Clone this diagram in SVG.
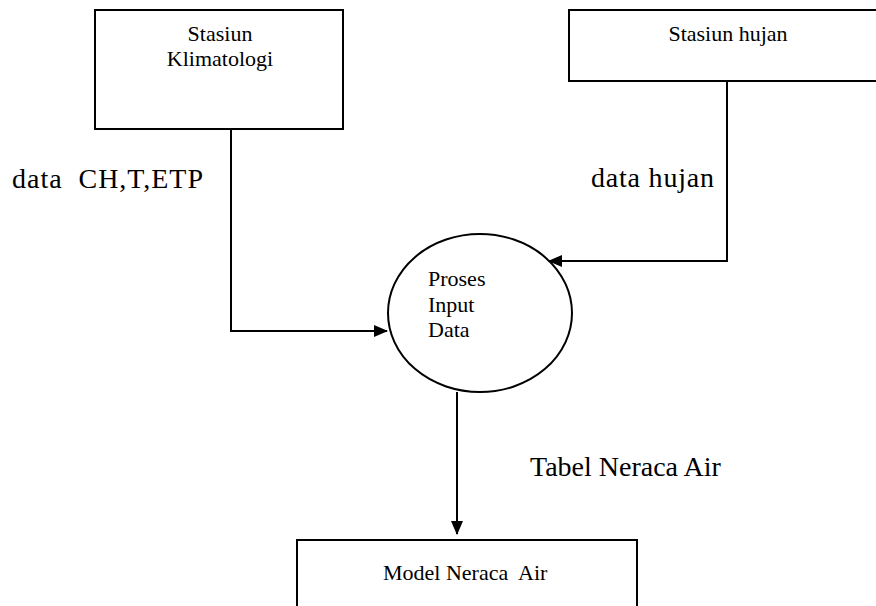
<svg xmlns="http://www.w3.org/2000/svg" width="876" height="606" viewBox="0 0 876 606">
<style>
.box{fill:#fff;stroke:#000;stroke-width:2}
.conn{fill:none;stroke:#000;stroke-width:2}
.t{font-family:"Liberation Serif","Times New Roman",serif;fill:#000}
.s{font-size:22px}
.l{font-size:28px}
</style>
<defs>
<marker id="ah" markerUnits="userSpaceOnUse" markerWidth="14" markerHeight="12" refX="13" refY="6" orient="auto">
<path d="M0,0 L14,6 L0,12 Z" fill="#000"/>
</marker>
</defs>
<rect width="876" height="606" fill="#fff"/>
<g id="connectors">
<path class="conn" d="M231,129 V331 H387" marker-end="url(#ah)"/>
<path class="conn" d="M727,81 V261 H549" marker-end="url(#ah)"/>
<path class="conn" d="M457,392 V534" marker-end="url(#ah)"/>
</g>
<g id="stasiun-klimatologi">
<rect class="box" x="95" y="10" width="248" height="119"/>
<text class="t s" x="220" y="41" text-anchor="middle">Stasiun</text>
<text class="t s" x="220" y="66" text-anchor="middle">Klimatologi</text>
</g>
<g id="stasiun-hujan">
<rect class="box" x="569" y="10" width="330" height="71"/>
<text class="t s" x="728" y="41" text-anchor="middle">Stasiun hujan</text>
</g>
<g id="proses-input-data">
<ellipse class="box" cx="480" cy="313" rx="92" ry="79"/>
<text class="t s" x="428" y="286">Proses</text>
<text class="t s" x="428" y="312">Input</text>
<text class="t s" x="428" y="337">Data</text>
</g>
<g id="model-neraca-air">
<rect class="box" x="297" y="540" width="340" height="90"/>
<text class="t s" x="383" y="580" xml:space="preserve">Model Neraca  Air</text>
</g>
<g id="labels">
<text class="t l" x="12" y="188" xml:space="preserve" textLength="191" lengthAdjust="spacing">data  CH,T,ETP</text>
<text class="t l" x="591" y="187" textLength="123" lengthAdjust="spacing">data hujan</text>
<text class="t l" x="530" y="476">Tabel Neraca Air</text>
</g>
</svg>
